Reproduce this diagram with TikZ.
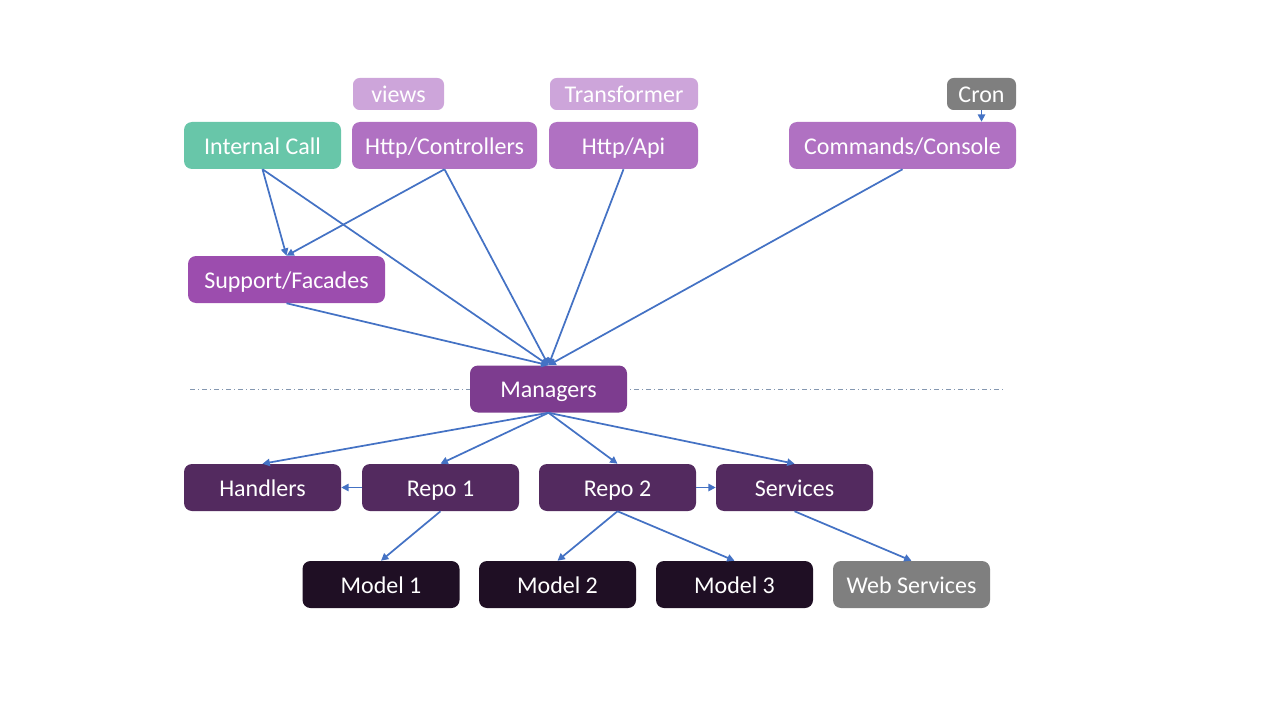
\documentclass[tikz,border=0pt]{standalone}
\usepackage{fontspec}
\setmainfont{Carlito}
\usetikzlibrary{arrows.meta}
\definecolor{tealbox}{HTML}{68C6A9}
\definecolor{lightbox}{HTML}{CDA5DA}
\definecolor{httpbox}{HTML}{B071C2}
\definecolor{facadebox}{HTML}{9C4DAE}
\definecolor{managerbox}{HTML}{7D3C8F}
\definecolor{repobox}{HTML}{532A5F}
\definecolor{modelbox}{HTML}{1F0F24}
\definecolor{graybox}{HTML}{7F7F7F}
\definecolor{linkblue}{HTML}{4472C4}
\definecolor{sepblue}{HTML}{8497B0}
\tikzset{
  box/.style={fill=#1, text=white, rounded corners=6pt, inner sep=0pt,
    minimum width=117.75pt, minimum height=35.25pt,
    text height=15pt, text depth=2pt,
    font=\fontsize{18}{22}\selectfont},
  tag/.style={fill=#1, text=white, rounded corners=5pt, inner sep=0pt,
    minimum height=24pt, text height=15pt, text depth=2pt,
    font=\fontsize{18}{22}\selectfont},
  link/.style={draw=linkblue, line width=1.3pt},
  arrow/.style={link, -{Triangle[length=5.5pt,width=5.5pt]}}
}
\begin{document}
\begin{tikzpicture}[x=0.75pt, y=-0.75pt]
  \useasboundingbox (0,0) rectangle (1280,720);
  % separator
  \coordinate (sepL) at (190,389);
  \coordinate (sepR) at (1003,389);
  \draw[sepblue, line width=0.75pt, dash pattern=on 4pt off 2pt on 1pt off 2pt] (sepL) -- (sepR);
  % top row
  \node[tag=lightbox, minimum width=68.25pt] (views) at (398.5,94) {views};
  \node[tag=lightbox, minimum width=111pt] (trans) at (624,94) {Transformer};
  \node[tag=graybox, minimum width=51.75pt] (cron) at (981.5,94) {Cron};
  \node[box=tealbox] (ic) at (262.5,145.5) {Internal Call};
  \node[box=httpbox, minimum width=138.75pt] (ctrl) at (444.5,145.5) {Http/Controllers};
  \node[box=httpbox, minimum width=111.75pt] (api) at (623.5,145.5) {Http/Api};
  \node[box=httpbox, minimum width=170.25pt] (cmd) at (902.5,145.5) {Commands/Console};
  \node[box=facadebox, minimum width=147.75pt] (sf) at (286.5,279.5) {Support/Facades};
  \node[box=managerbox] (mgr) at (548.5,389) {Managers};
  % lower rows
  \node[box=repobox] (hdl) at (262.5,487.5) {Handlers};
  \node[box=repobox] (repoA) at (440.5,487.5) {Repo 1};
  \node[box=repobox] (repoB) at (617.5,487.5) {Repo 2};
  \node[box=repobox] (svc) at (794.5,487.5) {Services};
  \node[box=modelbox] (modA) at (381,584.5) {Model 1};
  \node[box=modelbox] (modB) at (557.5,584.5) {Model 2};
  \node[box=modelbox] (modC) at (734.5,584.5) {Model 3};
  \node[box=graybox] (web) at (911.5,584.5) {Web Services};
  % connectors
  \draw[arrow] (cron.south) -- (cron.south |- cmd.north);
  \draw[arrow] (ic.south) -- (sf.north);
  \draw[arrow] (ctrl.south) -- (sf.north);
  \foreach \from in {ic, ctrl, api, cmd, sf}
    \draw[arrow] (\from.south) -- (mgr.north);
  \foreach \to in {hdl, repoA, repoB, svc}
    \draw[arrow] (mgr.south) -- (\to.north);
  \draw[arrow] (repoA) -- (hdl);
  \draw[arrow] (repoB) -- (svc);
  \draw[arrow] (repoA.south) -- (modA.north);
  \draw[arrow] (repoB.south) -- (modB.north);
  \draw[arrow] (repoB.south) -- (modC.north);
  \draw[arrow] (svc.south) -- (web.north);
\end{tikzpicture}
\end{document}
